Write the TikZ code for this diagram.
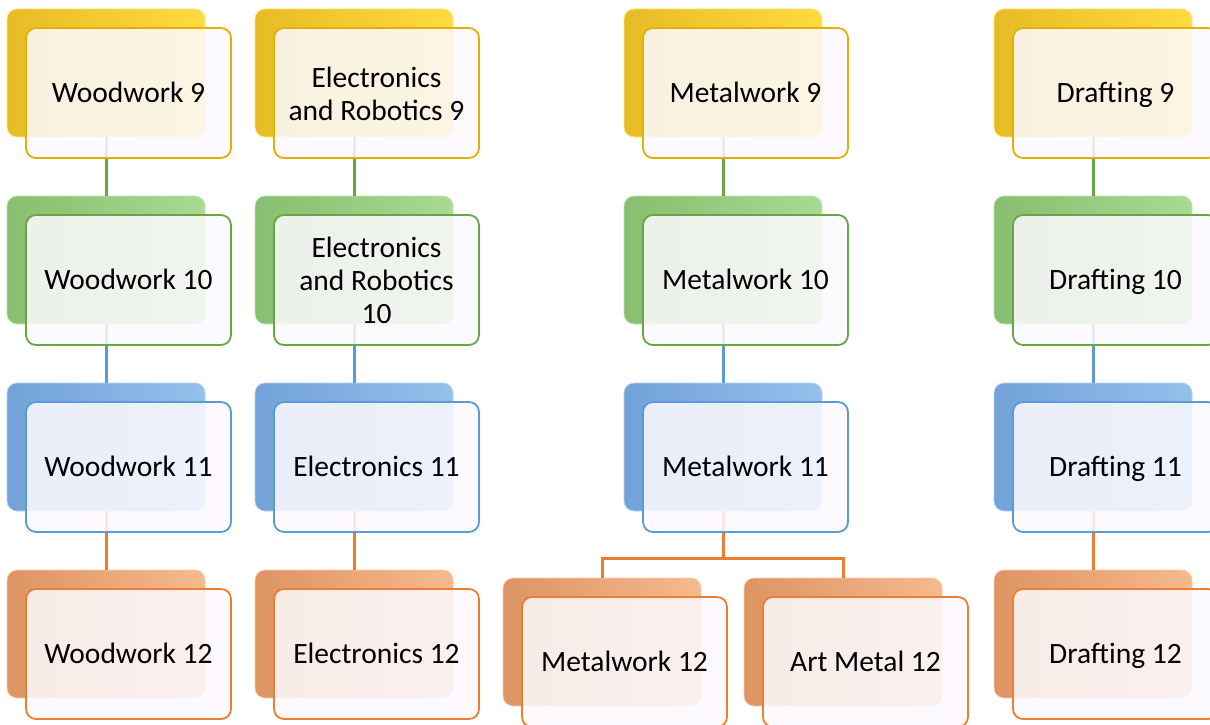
\documentclass[tikz,border=0pt]{standalone}
\usepackage{fontspec}
\setmainfont{Carlito}
\definecolor{ylwA}{HTML}{E6BC26}
\definecolor{ylwB}{HTML}{FFDA40}
\definecolor{ylwL}{HTML}{E2B000}
\definecolor{grnA}{HTML}{88BE70}
\definecolor{grnB}{HTML}{A8DA92}
\definecolor{grnL}{HTML}{6AA544}
\definecolor{bluA}{HTML}{72A2D8}
\definecolor{bluB}{HTML}{95BFEC}
\definecolor{bluL}{HTML}{5B9BD5}
\definecolor{orgA}{HTML}{DD9462}
\definecolor{orgB}{HTML}{F6B98E}
\definecolor{orgL}{HTML}{ED7D31}
\definecolor{cardfill}{HTML}{FCFAFE}
% height 24pt above the baseline, 6pt below it
\newcommand{\cardstrut}{\rule[-6pt]{0pt}{30pt}}
% stacked label lines, set a little below the card's middle
\newcommand{\stacklines}[1]{\raisebox{-4pt}[\height][\depth]{\begin{tabular}{@{}c@{}}#1\end{tabular}}}
\tikzset{
  backcard/.style={rounded corners=10pt, minimum width=198pt, minimum height=128pt,
    inner sep=0pt, draw=#1B!70, line width=0.8pt,
    left color=#1A, middle color=#1B, right color=#1B},
  frontcard/.style={rounded corners=10pt, minimum width=205pt, minimum height=130pt,
    inner sep=0pt, draw=#1L, line width=1.8pt, fill=cardfill, fill opacity=0.86,
    text opacity=1, align=center, font=\fontsize{29.5}{33}\selectfont,
    execute at begin node=\cardstrut, execute at end node=\cardstrut},
  link/.style={draw=#1L, line width=3pt}
}
\begin{document}
\begin{tikzpicture}[x=1pt,y=-1pt]
\useasboundingbox (0,0) rectangle (1210,725);
\fill[white] (0,0) rectangle (1210,725);

% back cards
\node[backcard=ylw] (w9b)  at (106,73) {};
\node[backcard=grn] (w10b) at (106,260) {};
\node[backcard=blu] (w11b) at (106,447) {};
\node[backcard=org] (w12b) at (106,634) {};
\node[backcard=ylw] (e9b)  at (354,73) {};
\node[backcard=grn] (e10b) at (354,260) {};
\node[backcard=blu] (e11b) at (354,447) {};
\node[backcard=org] (e12b) at (354,634) {};
\node[backcard=ylw] (m9b)  at (723,73) {};
\node[backcard=grn] (m10b) at (723,260) {};
\node[backcard=blu] (m11b) at (723,447) {};
\node[backcard=org] (m12b) at (602,642) {};
\node[backcard=org] (a12b) at (843,642) {};
\node[backcard=ylw] (d9b)  at (1093,73) {};
\node[backcard=grn] (d10b) at (1093,260) {};
\node[backcard=blu] (d11b) at (1093,447) {};
\node[backcard=org] (d12b) at (1093,634) {};

% connectors
\coordinate (fork) at (723,558);
\foreach \c in {w,e,m,d}{
  \draw[link=grn] (\c9b.south) -- (\c10b.north);
  \draw[link=blu] (\c10b.south) -- (\c11b.north);
}
\draw[link=org] (w11b.south) -- (w12b.north);
\draw[link=org] (e11b.south) -- (e12b.north);
\draw[link=org] (d11b.south) -- (d12b.north);
\draw[link=org] (m11b.south) -- (fork) -| (m12b.north);
\draw[link=org] (fork) -| (a12b.north);

% front cards
\node[frontcard=ylw] (w9)  at (128.5,93) {Woodwork 9};
\node[frontcard=grn] (w10) at (128.5,280) {Woodwork 10};
\node[frontcard=blu] (w11) at (128.5,467) {Woodwork 11};
\node[frontcard=org] (w12) at (128.5,654) {Woodwork 12};
\node[frontcard=ylw] (e9)  at (376.5,93) {\stacklines{Electronics\\and Robotics 9}};
\node[frontcard=grn] (e10) at (376.5,280) {\stacklines{Electronics\\and Robotics\\10}};
\node[frontcard=blu] (e11) at (376.5,467) {Electronics 11};
\node[frontcard=org] (e12) at (376.5,654) {Electronics 12};
\node[frontcard=ylw] (m9)  at (745.5,93) {Metalwork 9};
\node[frontcard=grn] (m10) at (745.5,280) {Metalwork 10};
\node[frontcard=blu] (m11) at (745.5,467) {Metalwork 11};
\node[frontcard=org] (m12) at (624.5,662) {Metalwork 12};
\node[frontcard=org] (a12) at (865.5,662) {Art Metal 12};
\node[frontcard=ylw] (d9)  at (1115.5,93) {Drafting 9};
\node[frontcard=grn] (d10) at (1115.5,280) {Drafting 10};
\node[frontcard=blu] (d11) at (1115.5,467) {Drafting 11};
\node[frontcard=org] (d12) at (1115.5,654) {Drafting 12};
\end{tikzpicture}
\end{document}
